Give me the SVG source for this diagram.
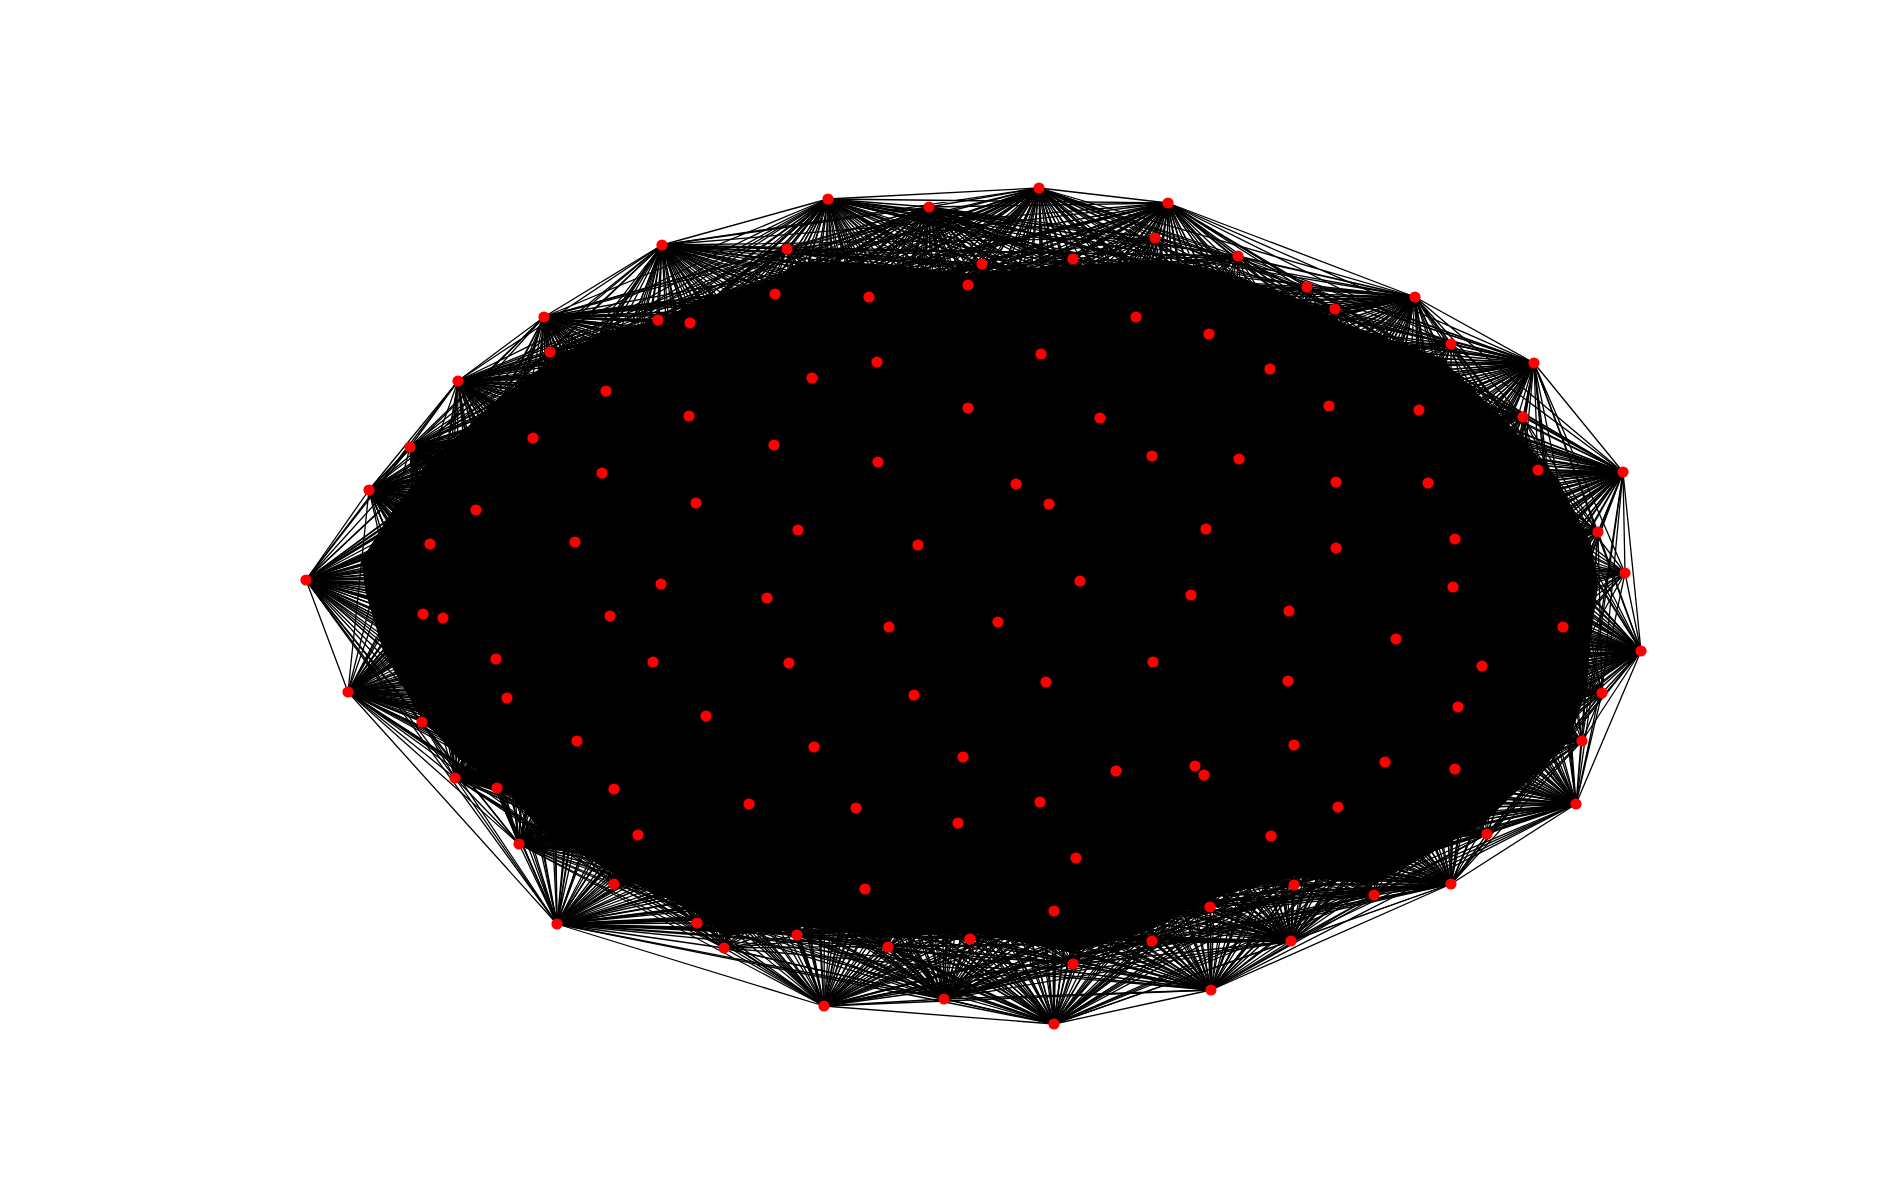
<svg xmlns="http://www.w3.org/2000/svg" width="1900" height="1200" viewBox="0 0 1900 1200">
<style>
#connectors path{fill:none;stroke:#000;stroke-width:1.3;stroke-linejoin:round;stroke-linecap:round}
#connectors path.core{fill:#000;stroke-width:1}
#nodes circle{fill:#ff0000;stroke:none}
</style>
<rect width="1900" height="1200" fill="#fff"/>
<g id="connectors">
<path class="core" d="M690 306L775 278 800 262 870 264 968 274 1073 266 1155 260 1230 274 1300 300 1340 322 1440 358 1512 428 1556 478 1590 542 1598 582 1590 640 1586 690 1568 742 1482 824 1374 884 1294 876 1210 898 1150 930 1073 952 1020 942 970 932 888 936 800 926 724 936 697 912 612 872 540 828 497 780 458 758 418 712 384 652 366 592 362 560 396 506 440 452 500 398 550 362 600 334 658 320Z"/>
<path d="M1039 188L1168 203 1415 297 1534 363 1623 472 1641 651 1576 804 1451 884 1291 941 1211 990 1054 1024 944 999 824 1006 557 924 519 844 455 778 348 692 306 580 369 490 410 447 458 381 544 317 662 245 828 199 929 207Z"/>
<path d="M1039 188L1415 297 1623 472 1576 804 1291 941 1054 1024 824 1006 519 844 348 692 369 490 458 381 662 245 929 207 1168 203 1534 363 1641 651 1451 884 1211 990 944 999 557 924 455 778 306 580 410 447 544 317 828 199Z"/>
<path d="M1039 188L1534 363 1576 804 1211 990 824 1006 455 778 369 490 544 317 929 207 1415 297 1641 651 1291 941 944 999 519 844 306 580 458 381 828 199 1168 203 1623 472 1451 884 1054 1024 557 924 348 692 410 447 662 245Z"/>
<path d="M1039 188L1623 472 1291 941 824 1006 348 692 458 381 929 207 1534 363 1451 884 944 999 455 778 410 447 828 199 1415 297 1576 804 1054 1024 519 844 369 490 662 245 1168 203 1641 651 1211 990 557 924 306 580 544 317Z"/>
<path d="M1039 188L1641 651 1054 1024 455 778 458 381ZM1168 203L1576 804 944 999 348 692 544 317ZM1415 297L1451 884 824 1006 306 580 662 245ZM1534 363L1291 941 557 924 369 490 828 199ZM1623 472L1211 990 519 844 410 447 929 207Z"/>
<path d="M1039 188L1576 804 824 1006 369 490 929 207 1641 651 944 999 306 580 828 199 1623 472 1054 1024 348 692 662 245 1534 363 1211 990 455 778 544 317 1415 297 1291 941 519 844 458 381 1168 203 1451 884 557 924 410 447Z"/>
<path d="M1039 188L1451 884 519 844 544 317 1534 363 1054 1024 306 580 929 207 1576 804 557 924 458 381 1415 297 1211 990 348 692 828 199 1641 651 824 1006 410 447 1168 203 1291 941 455 778 662 245 1623 472 944 999 369 490Z"/>
<path d="M1039 188L1291 941 348 692 929 207 1451 884 455 778 828 199 1576 804 519 844 662 245 1641 651 557 924 544 317 1623 472 824 1006 458 381 1534 363 944 999 410 447 1415 297 1054 1024 369 490 1168 203 1211 990 306 580Z"/>
<path d="M1039 188L1211 990 369 490 1415 297 944 999 458 381 1623 472 557 924 662 245 1576 804 455 778 929 207 1291 941 306 580 1168 203 1054 1024 410 447 1534 363 824 1006 544 317 1641 651 519 844 828 199 1451 884 348 692Z"/>
<path d="M1039 188L1054 1024 458 381 1641 651 455 778ZM1168 203L944 999 544 317 1576 804 348 692ZM1415 297L824 1006 662 245 1451 884 306 580ZM1534 363L557 924 828 199 1291 941 369 490ZM1623 472L519 844 929 207 1211 990 410 447Z"/>
<path d="M1039 188L944 999 662 245 1291 941 410 447 1641 651 348 692 1415 297 557 924 929 207 1054 1024 544 317 1451 884 369 490 1623 472 455 778 1168 203 824 1006 828 199 1211 990 458 381 1576 804 306 580 1534 363 519 844Z"/>
<path d="M1039 188L824 1006 929 207 944 999 828 199 1054 1024 662 245 1211 990 544 317 1291 941 458 381 1451 884 410 447 1576 804 369 490 1641 651 306 580 1623 472 348 692 1534 363 455 778 1415 297 519 844 1168 203 557 924Z"/>
<path d="M787 249L982 264 1238 256 1335 309 1523 417 1598 532 1602 693 1582 741 1487 834 1374 895 1210 907 1073 964 970 939 797 935 697 923 638 835 422 722 443 618 476 510 550 352 690 323Z"/>
<path d="M787 249L1238 256 1523 417 1602 693 1487 834 1210 907 970 939 697 923 422 722 476 510 690 323 982 264 1335 309 1598 532 1582 741 1374 895 1073 964 797 935 638 835 443 618 550 352Z"/>
<path d="M787 249L1335 309 1602 693 1374 895 970 939 638 835 476 510ZM982 264L1523 417 1582 741 1210 907 797 935 422 722 550 352ZM1238 256L1598 532 1487 834 1073 964 697 923 443 618 690 323Z"/>
<path d="M1039 188L787 249 1039 188 982 264 1039 188 1155 238 1039 188 1238 256 1039 188 1335 309 1039 188 1451 344 1039 188 1523 417 1039 188 1598 532 1039 188 1625 573 1039 188 1602 693 1039 188 1582 741 1039 188 1487 834 1039 188 1374 895 1039 188 1210 907 1039 188 1152 941 1039 188 1073 964 1039 188 970 939 1039 188 888 947 1039 188 797 935 1039 188 697 923 1039 188 638 835 1039 188 497 788 1039 188 422 722 1039 188 443 618 1039 188 430 544 1039 188 476 510 1039 188 550 352 1039 188 658 320 1039 188 690 323"/>
<path d="M1168 203L787 249 1168 203 982 264 1168 203 1155 238 1168 203 1238 256 1168 203 1335 309 1168 203 1451 344 1168 203 1523 417 1168 203 1598 532 1168 203 1625 573 1168 203 1602 693 1168 203 1582 741 1168 203 1487 834 1168 203 1374 895 1168 203 1210 907 1168 203 1152 941 1168 203 1073 964 1168 203 970 939 1168 203 888 947 1168 203 797 935 1168 203 697 923 1168 203 638 835 1168 203 497 788 1168 203 422 722 1168 203 443 618 1168 203 430 544 1168 203 476 510 1168 203 550 352 1168 203 658 320 1168 203 690 323"/>
<path d="M1415 297L787 249 1415 297 982 264 1415 297 1155 238 1415 297 1238 256 1415 297 1335 309 1415 297 1451 344 1415 297 1523 417 1415 297 1598 532 1415 297 1625 573 1415 297 1602 693 1415 297 1582 741 1415 297 1487 834 1415 297 1374 895 1415 297 1210 907 1415 297 1152 941 1415 297 1073 964 1415 297 970 939 1415 297 888 947 1415 297 797 935 1415 297 697 923 1415 297 638 835 1415 297 497 788 1415 297 422 722 1415 297 443 618 1415 297 430 544 1415 297 476 510 1415 297 550 352 1415 297 658 320 1415 297 690 323"/>
<path d="M1534 363L787 249 1534 363 982 264 1534 363 1155 238 1534 363 1238 256 1534 363 1335 309 1534 363 1451 344 1534 363 1523 417 1534 363 1598 532 1534 363 1625 573 1534 363 1602 693 1534 363 1582 741 1534 363 1487 834 1534 363 1374 895 1534 363 1210 907 1534 363 1152 941 1534 363 1073 964 1534 363 970 939 1534 363 888 947 1534 363 797 935 1534 363 697 923 1534 363 638 835 1534 363 497 788 1534 363 422 722 1534 363 443 618 1534 363 430 544 1534 363 476 510 1534 363 550 352 1534 363 658 320 1534 363 690 323"/>
<path d="M1623 472L787 249 1623 472 982 264 1623 472 1155 238 1623 472 1238 256 1623 472 1335 309 1623 472 1451 344 1623 472 1523 417 1623 472 1598 532 1623 472 1625 573 1623 472 1602 693 1623 472 1582 741 1623 472 1487 834 1623 472 1374 895 1623 472 1210 907 1623 472 1152 941 1623 472 1073 964 1623 472 970 939 1623 472 888 947 1623 472 797 935 1623 472 697 923 1623 472 638 835 1623 472 497 788 1623 472 422 722 1623 472 443 618 1623 472 430 544 1623 472 476 510 1623 472 550 352 1623 472 658 320 1623 472 690 323"/>
<path d="M1641 651L787 249 1641 651 982 264 1641 651 1155 238 1641 651 1238 256 1641 651 1335 309 1641 651 1451 344 1641 651 1523 417 1641 651 1598 532 1641 651 1625 573 1641 651 1602 693 1641 651 1582 741 1641 651 1487 834 1641 651 1374 895 1641 651 1210 907 1641 651 1152 941 1641 651 1073 964 1641 651 970 939 1641 651 888 947 1641 651 797 935 1641 651 697 923 1641 651 638 835 1641 651 497 788 1641 651 422 722 1641 651 443 618 1641 651 430 544 1641 651 476 510 1641 651 550 352 1641 651 658 320 1641 651 690 323"/>
<path d="M1576 804L787 249 1576 804 982 264 1576 804 1155 238 1576 804 1238 256 1576 804 1335 309 1576 804 1451 344 1576 804 1523 417 1576 804 1598 532 1576 804 1625 573 1576 804 1602 693 1576 804 1582 741 1576 804 1487 834 1576 804 1374 895 1576 804 1210 907 1576 804 1152 941 1576 804 1073 964 1576 804 970 939 1576 804 888 947 1576 804 797 935 1576 804 697 923 1576 804 638 835 1576 804 497 788 1576 804 422 722 1576 804 443 618 1576 804 430 544 1576 804 476 510 1576 804 550 352 1576 804 658 320 1576 804 690 323"/>
<path d="M1451 884L787 249 1451 884 982 264 1451 884 1155 238 1451 884 1238 256 1451 884 1335 309 1451 884 1451 344 1451 884 1523 417 1451 884 1598 532 1451 884 1625 573 1451 884 1602 693 1451 884 1582 741 1451 884 1487 834 1451 884 1374 895 1451 884 1210 907 1451 884 1152 941 1451 884 1073 964 1451 884 970 939 1451 884 888 947 1451 884 797 935 1451 884 697 923 1451 884 638 835 1451 884 497 788 1451 884 422 722 1451 884 443 618 1451 884 430 544 1451 884 476 510 1451 884 550 352 1451 884 658 320 1451 884 690 323"/>
<path d="M1291 941L787 249 1291 941 982 264 1291 941 1155 238 1291 941 1238 256 1291 941 1335 309 1291 941 1451 344 1291 941 1523 417 1291 941 1598 532 1291 941 1625 573 1291 941 1602 693 1291 941 1582 741 1291 941 1487 834 1291 941 1374 895 1291 941 1210 907 1291 941 1152 941 1291 941 1073 964 1291 941 970 939 1291 941 888 947 1291 941 797 935 1291 941 697 923 1291 941 638 835 1291 941 497 788 1291 941 422 722 1291 941 443 618 1291 941 430 544 1291 941 476 510 1291 941 550 352 1291 941 658 320 1291 941 690 323"/>
<path d="M1211 990L787 249 1211 990 982 264 1211 990 1155 238 1211 990 1238 256 1211 990 1335 309 1211 990 1451 344 1211 990 1523 417 1211 990 1598 532 1211 990 1625 573 1211 990 1602 693 1211 990 1582 741 1211 990 1487 834 1211 990 1374 895 1211 990 1210 907 1211 990 1152 941 1211 990 1073 964 1211 990 970 939 1211 990 888 947 1211 990 797 935 1211 990 697 923 1211 990 638 835 1211 990 497 788 1211 990 422 722 1211 990 443 618 1211 990 430 544 1211 990 476 510 1211 990 550 352 1211 990 658 320 1211 990 690 323"/>
<path d="M1054 1024L787 249 1054 1024 982 264 1054 1024 1155 238 1054 1024 1238 256 1054 1024 1335 309 1054 1024 1451 344 1054 1024 1523 417 1054 1024 1598 532 1054 1024 1625 573 1054 1024 1602 693 1054 1024 1582 741 1054 1024 1487 834 1054 1024 1374 895 1054 1024 1210 907 1054 1024 1152 941 1054 1024 1073 964 1054 1024 970 939 1054 1024 888 947 1054 1024 797 935 1054 1024 697 923 1054 1024 638 835 1054 1024 497 788 1054 1024 422 722 1054 1024 443 618 1054 1024 430 544 1054 1024 476 510 1054 1024 550 352 1054 1024 658 320 1054 1024 690 323"/>
<path d="M944 999L787 249 944 999 982 264 944 999 1155 238 944 999 1238 256 944 999 1335 309 944 999 1451 344 944 999 1523 417 944 999 1598 532 944 999 1625 573 944 999 1602 693 944 999 1582 741 944 999 1487 834 944 999 1374 895 944 999 1210 907 944 999 1152 941 944 999 1073 964 944 999 970 939 944 999 888 947 944 999 797 935 944 999 697 923 944 999 638 835 944 999 497 788 944 999 422 722 944 999 443 618 944 999 430 544 944 999 476 510 944 999 550 352 944 999 658 320 944 999 690 323"/>
<path d="M824 1006L787 249 824 1006 982 264 824 1006 1155 238 824 1006 1238 256 824 1006 1335 309 824 1006 1451 344 824 1006 1523 417 824 1006 1598 532 824 1006 1625 573 824 1006 1602 693 824 1006 1582 741 824 1006 1487 834 824 1006 1374 895 824 1006 1210 907 824 1006 1152 941 824 1006 1073 964 824 1006 970 939 824 1006 888 947 824 1006 797 935 824 1006 697 923 824 1006 638 835 824 1006 497 788 824 1006 422 722 824 1006 443 618 824 1006 430 544 824 1006 476 510 824 1006 550 352 824 1006 658 320 824 1006 690 323"/>
<path d="M557 924L787 249 557 924 982 264 557 924 1155 238 557 924 1238 256 557 924 1335 309 557 924 1451 344 557 924 1523 417 557 924 1598 532 557 924 1625 573 557 924 1602 693 557 924 1582 741 557 924 1487 834 557 924 1374 895 557 924 1210 907 557 924 1152 941 557 924 1073 964 557 924 970 939 557 924 888 947 557 924 797 935 557 924 697 923 557 924 638 835 557 924 497 788 557 924 422 722 557 924 443 618 557 924 430 544 557 924 476 510 557 924 550 352 557 924 658 320 557 924 690 323"/>
<path d="M519 844L787 249 519 844 982 264 519 844 1155 238 519 844 1238 256 519 844 1335 309 519 844 1451 344 519 844 1523 417 519 844 1598 532 519 844 1625 573 519 844 1602 693 519 844 1582 741 519 844 1487 834 519 844 1374 895 519 844 1210 907 519 844 1152 941 519 844 1073 964 519 844 970 939 519 844 888 947 519 844 797 935 519 844 697 923 519 844 638 835 519 844 497 788 519 844 422 722 519 844 443 618 519 844 430 544 519 844 476 510 519 844 550 352 519 844 658 320 519 844 690 323"/>
<path d="M455 778L787 249 455 778 982 264 455 778 1155 238 455 778 1238 256 455 778 1335 309 455 778 1451 344 455 778 1523 417 455 778 1598 532 455 778 1625 573 455 778 1602 693 455 778 1582 741 455 778 1487 834 455 778 1374 895 455 778 1210 907 455 778 1152 941 455 778 1073 964 455 778 970 939 455 778 888 947 455 778 797 935 455 778 697 923 455 778 638 835 455 778 497 788 455 778 422 722 455 778 443 618 455 778 430 544 455 778 476 510 455 778 550 352 455 778 658 320 455 778 690 323"/>
<path d="M348 692L787 249 348 692 982 264 348 692 1155 238 348 692 1238 256 348 692 1335 309 348 692 1451 344 348 692 1523 417 348 692 1598 532 348 692 1625 573 348 692 1602 693 348 692 1582 741 348 692 1487 834 348 692 1374 895 348 692 1210 907 348 692 1152 941 348 692 1073 964 348 692 970 939 348 692 888 947 348 692 797 935 348 692 697 923 348 692 638 835 348 692 497 788 348 692 422 722 348 692 443 618 348 692 430 544 348 692 476 510 348 692 550 352 348 692 658 320 348 692 690 323"/>
<path d="M306 580L787 249 306 580 982 264 306 580 1155 238 306 580 1238 256 306 580 1335 309 306 580 1451 344 306 580 1523 417 306 580 1598 532 306 580 1625 573 306 580 1602 693 306 580 1582 741 306 580 1487 834 306 580 1374 895 306 580 1210 907 306 580 1152 941 306 580 1073 964 306 580 970 939 306 580 888 947 306 580 797 935 306 580 697 923 306 580 638 835 306 580 497 788 306 580 422 722 306 580 443 618 306 580 430 544 306 580 476 510 306 580 550 352 306 580 658 320 306 580 690 323"/>
<path d="M369 490L787 249 369 490 982 264 369 490 1155 238 369 490 1238 256 369 490 1335 309 369 490 1451 344 369 490 1523 417 369 490 1598 532 369 490 1625 573 369 490 1602 693 369 490 1582 741 369 490 1487 834 369 490 1374 895 369 490 1210 907 369 490 1152 941 369 490 1073 964 369 490 970 939 369 490 888 947 369 490 797 935 369 490 697 923 369 490 638 835 369 490 497 788 369 490 422 722 369 490 443 618 369 490 430 544 369 490 476 510 369 490 550 352 369 490 658 320 369 490 690 323"/>
<path d="M410 447L787 249 410 447 982 264 410 447 1155 238 410 447 1238 256 410 447 1335 309 410 447 1451 344 410 447 1523 417 410 447 1598 532 410 447 1625 573 410 447 1602 693 410 447 1582 741 410 447 1487 834 410 447 1374 895 410 447 1210 907 410 447 1152 941 410 447 1073 964 410 447 970 939 410 447 888 947 410 447 797 935 410 447 697 923 410 447 638 835 410 447 497 788 410 447 422 722 410 447 443 618 410 447 430 544 410 447 476 510 410 447 550 352 410 447 658 320 410 447 690 323"/>
<path d="M458 381L787 249 458 381 982 264 458 381 1155 238 458 381 1238 256 458 381 1335 309 458 381 1451 344 458 381 1523 417 458 381 1598 532 458 381 1625 573 458 381 1602 693 458 381 1582 741 458 381 1487 834 458 381 1374 895 458 381 1210 907 458 381 1152 941 458 381 1073 964 458 381 970 939 458 381 888 947 458 381 797 935 458 381 697 923 458 381 638 835 458 381 497 788 458 381 422 722 458 381 443 618 458 381 430 544 458 381 476 510 458 381 550 352 458 381 658 320 458 381 690 323"/>
<path d="M544 317L787 249 544 317 982 264 544 317 1155 238 544 317 1238 256 544 317 1335 309 544 317 1451 344 544 317 1523 417 544 317 1598 532 544 317 1625 573 544 317 1602 693 544 317 1582 741 544 317 1487 834 544 317 1374 895 544 317 1210 907 544 317 1152 941 544 317 1073 964 544 317 970 939 544 317 888 947 544 317 797 935 544 317 697 923 544 317 638 835 544 317 497 788 544 317 422 722 544 317 443 618 544 317 430 544 544 317 476 510 544 317 550 352 544 317 658 320 544 317 690 323"/>
<path d="M662 245L787 249 662 245 982 264 662 245 1155 238 662 245 1238 256 662 245 1335 309 662 245 1451 344 662 245 1523 417 662 245 1598 532 662 245 1625 573 662 245 1602 693 662 245 1582 741 662 245 1487 834 662 245 1374 895 662 245 1210 907 662 245 1152 941 662 245 1073 964 662 245 970 939 662 245 888 947 662 245 797 935 662 245 697 923 662 245 638 835 662 245 497 788 662 245 422 722 662 245 443 618 662 245 430 544 662 245 476 510 662 245 550 352 662 245 658 320 662 245 690 323"/>
<path d="M828 199L787 249 828 199 982 264 828 199 1155 238 828 199 1238 256 828 199 1335 309 828 199 1451 344 828 199 1523 417 828 199 1598 532 828 199 1625 573 828 199 1602 693 828 199 1582 741 828 199 1487 834 828 199 1374 895 828 199 1210 907 828 199 1152 941 828 199 1073 964 828 199 970 939 828 199 888 947 828 199 797 935 828 199 697 923 828 199 638 835 828 199 497 788 828 199 422 722 828 199 443 618 828 199 430 544 828 199 476 510 828 199 550 352 828 199 658 320 828 199 690 323"/>
<path d="M929 207L787 249 929 207 982 264 929 207 1155 238 929 207 1238 256 929 207 1335 309 929 207 1451 344 929 207 1523 417 929 207 1598 532 929 207 1625 573 929 207 1602 693 929 207 1582 741 929 207 1487 834 929 207 1374 895 929 207 1210 907 929 207 1152 941 929 207 1073 964 929 207 970 939 929 207 888 947 929 207 797 935 929 207 697 923 929 207 638 835 929 207 497 788 929 207 422 722 929 207 443 618 929 207 430 544 929 207 476 510 929 207 550 352 929 207 658 320 929 207 690 323"/>
<path d="M1039 188L1307 287 1039 188 1538 470 1039 188 1563 627 1039 188 1294 885 1039 188 1054 911 1039 188 724 948 1039 188 614 884 1039 188 423 614 1039 188 533 438 1039 188 1073 259 1039 188 577 741 1039 188 606 391 1039 188 775 294 1039 188 1209 334 1039 188 1419 410 1039 188 1455 539 1039 188 1482 666 1039 188 1455 769 1039 188 1271 836 1039 188 1076 858 1039 188 865 889 1039 188 749 804 1039 188 507 698 1039 188 602 473 1039 188 877 362 1039 188 968 285"/>
<path d="M1168 203L1307 287 1168 203 1538 470 1168 203 1563 627 1168 203 1294 885 1168 203 1054 911 1168 203 724 948 1168 203 614 884 1168 203 423 614 1168 203 533 438 1168 203 1073 259 1168 203 577 741 1168 203 606 391 1168 203 775 294 1168 203 1209 334 1168 203 1419 410 1168 203 1455 539 1168 203 1482 666 1168 203 1455 769 1168 203 1271 836 1168 203 1076 858 1168 203 865 889 1168 203 749 804 1168 203 507 698 1168 203 602 473 1168 203 877 362 1168 203 968 285"/>
<path d="M1415 297L1307 287 1415 297 1538 470 1415 297 1563 627 1415 297 1294 885 1415 297 1054 911 1415 297 724 948 1415 297 614 884 1415 297 423 614 1415 297 533 438 1415 297 1073 259 1415 297 577 741 1415 297 606 391 1415 297 775 294 1415 297 1209 334 1415 297 1419 410 1415 297 1455 539 1415 297 1482 666 1415 297 1455 769 1415 297 1271 836 1415 297 1076 858 1415 297 865 889 1415 297 749 804 1415 297 507 698 1415 297 602 473 1415 297 877 362 1415 297 968 285"/>
<path d="M1534 363L1307 287 1534 363 1538 470 1534 363 1563 627 1534 363 1294 885 1534 363 1054 911 1534 363 724 948 1534 363 614 884 1534 363 423 614 1534 363 533 438 1534 363 1073 259 1534 363 577 741 1534 363 606 391 1534 363 775 294 1534 363 1209 334 1534 363 1419 410 1534 363 1455 539 1534 363 1482 666 1534 363 1455 769 1534 363 1271 836 1534 363 1076 858 1534 363 865 889 1534 363 749 804 1534 363 507 698 1534 363 602 473 1534 363 877 362 1534 363 968 285"/>
<path d="M1623 472L1307 287 1623 472 1538 470 1623 472 1563 627 1623 472 1294 885 1623 472 1054 911 1623 472 724 948 1623 472 614 884 1623 472 423 614 1623 472 533 438 1623 472 1073 259 1623 472 577 741 1623 472 606 391 1623 472 775 294 1623 472 1209 334 1623 472 1419 410 1623 472 1455 539 1623 472 1482 666 1623 472 1455 769 1623 472 1271 836 1623 472 1076 858 1623 472 865 889 1623 472 749 804 1623 472 507 698 1623 472 602 473 1623 472 877 362 1623 472 968 285"/>
<path d="M1641 651L1307 287 1641 651 1538 470 1641 651 1563 627 1641 651 1294 885 1641 651 1054 911 1641 651 724 948 1641 651 614 884 1641 651 423 614 1641 651 533 438 1641 651 1073 259 1641 651 577 741 1641 651 606 391 1641 651 775 294 1641 651 1209 334 1641 651 1419 410 1641 651 1455 539 1641 651 1482 666 1641 651 1455 769 1641 651 1271 836 1641 651 1076 858 1641 651 865 889 1641 651 749 804 1641 651 507 698 1641 651 602 473 1641 651 877 362 1641 651 968 285"/>
<path d="M1576 804L1307 287 1576 804 1538 470 1576 804 1563 627 1576 804 1294 885 1576 804 1054 911 1576 804 724 948 1576 804 614 884 1576 804 423 614 1576 804 533 438 1576 804 1073 259 1576 804 577 741 1576 804 606 391 1576 804 775 294 1576 804 1209 334 1576 804 1419 410 1576 804 1455 539 1576 804 1482 666 1576 804 1455 769 1576 804 1271 836 1576 804 1076 858 1576 804 865 889 1576 804 749 804 1576 804 507 698 1576 804 602 473 1576 804 877 362 1576 804 968 285"/>
<path d="M1451 884L1307 287 1451 884 1538 470 1451 884 1563 627 1451 884 1294 885 1451 884 1054 911 1451 884 724 948 1451 884 614 884 1451 884 423 614 1451 884 533 438 1451 884 1073 259 1451 884 577 741 1451 884 606 391 1451 884 775 294 1451 884 1209 334 1451 884 1419 410 1451 884 1455 539 1451 884 1482 666 1451 884 1455 769 1451 884 1271 836 1451 884 1076 858 1451 884 865 889 1451 884 749 804 1451 884 507 698 1451 884 602 473 1451 884 877 362 1451 884 968 285"/>
<path d="M1291 941L1307 287 1291 941 1538 470 1291 941 1563 627 1291 941 1294 885 1291 941 1054 911 1291 941 724 948 1291 941 614 884 1291 941 423 614 1291 941 533 438 1291 941 1073 259 1291 941 577 741 1291 941 606 391 1291 941 775 294 1291 941 1209 334 1291 941 1419 410 1291 941 1455 539 1291 941 1482 666 1291 941 1455 769 1291 941 1271 836 1291 941 1076 858 1291 941 865 889 1291 941 749 804 1291 941 507 698 1291 941 602 473 1291 941 877 362 1291 941 968 285"/>
<path d="M1211 990L1307 287 1211 990 1538 470 1211 990 1563 627 1211 990 1294 885 1211 990 1054 911 1211 990 724 948 1211 990 614 884 1211 990 423 614 1211 990 533 438 1211 990 1073 259 1211 990 577 741 1211 990 606 391 1211 990 775 294 1211 990 1209 334 1211 990 1419 410 1211 990 1455 539 1211 990 1482 666 1211 990 1455 769 1211 990 1271 836 1211 990 1076 858 1211 990 865 889 1211 990 749 804 1211 990 507 698 1211 990 602 473 1211 990 877 362 1211 990 968 285"/>
<path d="M1054 1024L1307 287 1054 1024 1538 470 1054 1024 1563 627 1054 1024 1294 885 1054 1024 1054 911 1054 1024 724 948 1054 1024 614 884 1054 1024 423 614 1054 1024 533 438 1054 1024 1073 259 1054 1024 577 741 1054 1024 606 391 1054 1024 775 294 1054 1024 1209 334 1054 1024 1419 410 1054 1024 1455 539 1054 1024 1482 666 1054 1024 1455 769 1054 1024 1271 836 1054 1024 1076 858 1054 1024 865 889 1054 1024 749 804 1054 1024 507 698 1054 1024 602 473 1054 1024 877 362 1054 1024 968 285"/>
<path d="M944 999L1307 287 944 999 1538 470 944 999 1563 627 944 999 1294 885 944 999 1054 911 944 999 724 948 944 999 614 884 944 999 423 614 944 999 533 438 944 999 1073 259 944 999 577 741 944 999 606 391 944 999 775 294 944 999 1209 334 944 999 1419 410 944 999 1455 539 944 999 1482 666 944 999 1455 769 944 999 1271 836 944 999 1076 858 944 999 865 889 944 999 749 804 944 999 507 698 944 999 602 473 944 999 877 362 944 999 968 285"/>
<path d="M824 1006L1307 287 824 1006 1538 470 824 1006 1563 627 824 1006 1294 885 824 1006 1054 911 824 1006 724 948 824 1006 614 884 824 1006 423 614 824 1006 533 438 824 1006 1073 259 824 1006 577 741 824 1006 606 391 824 1006 775 294 824 1006 1209 334 824 1006 1419 410 824 1006 1455 539 824 1006 1482 666 824 1006 1455 769 824 1006 1271 836 824 1006 1076 858 824 1006 865 889 824 1006 749 804 824 1006 507 698 824 1006 602 473 824 1006 877 362 824 1006 968 285"/>
<path d="M557 924L1307 287 557 924 1538 470 557 924 1563 627 557 924 1294 885 557 924 1054 911 557 924 724 948 557 924 614 884 557 924 423 614 557 924 533 438 557 924 1073 259 557 924 577 741 557 924 606 391 557 924 775 294 557 924 1209 334 557 924 1419 410 557 924 1455 539 557 924 1482 666 557 924 1455 769 557 924 1271 836 557 924 1076 858 557 924 865 889 557 924 749 804 557 924 507 698 557 924 602 473 557 924 877 362 557 924 968 285"/>
<path d="M519 844L1307 287 519 844 1538 470 519 844 1563 627 519 844 1294 885 519 844 1054 911 519 844 724 948 519 844 614 884 519 844 423 614 519 844 533 438 519 844 1073 259 519 844 577 741 519 844 606 391 519 844 775 294 519 844 1209 334 519 844 1419 410 519 844 1455 539 519 844 1482 666 519 844 1455 769 519 844 1271 836 519 844 1076 858 519 844 865 889 519 844 749 804 519 844 507 698 519 844 602 473 519 844 877 362 519 844 968 285"/>
<path d="M455 778L1307 287 455 778 1538 470 455 778 1563 627 455 778 1294 885 455 778 1054 911 455 778 724 948 455 778 614 884 455 778 423 614 455 778 533 438 455 778 1073 259 455 778 577 741 455 778 606 391 455 778 775 294 455 778 1209 334 455 778 1419 410 455 778 1455 539 455 778 1482 666 455 778 1455 769 455 778 1271 836 455 778 1076 858 455 778 865 889 455 778 749 804 455 778 507 698 455 778 602 473 455 778 877 362 455 778 968 285"/>
<path d="M348 692L1307 287 348 692 1538 470 348 692 1563 627 348 692 1294 885 348 692 1054 911 348 692 724 948 348 692 614 884 348 692 423 614 348 692 533 438 348 692 1073 259 348 692 577 741 348 692 606 391 348 692 775 294 348 692 1209 334 348 692 1419 410 348 692 1455 539 348 692 1482 666 348 692 1455 769 348 692 1271 836 348 692 1076 858 348 692 865 889 348 692 749 804 348 692 507 698 348 692 602 473 348 692 877 362 348 692 968 285"/>
<path d="M306 580L1307 287 306 580 1538 470 306 580 1563 627 306 580 1294 885 306 580 1054 911 306 580 724 948 306 580 614 884 306 580 423 614 306 580 533 438 306 580 1073 259 306 580 577 741 306 580 606 391 306 580 775 294 306 580 1209 334 306 580 1419 410 306 580 1455 539 306 580 1482 666 306 580 1455 769 306 580 1271 836 306 580 1076 858 306 580 865 889 306 580 749 804 306 580 507 698 306 580 602 473 306 580 877 362 306 580 968 285"/>
<path d="M369 490L1307 287 369 490 1538 470 369 490 1563 627 369 490 1294 885 369 490 1054 911 369 490 724 948 369 490 614 884 369 490 423 614 369 490 533 438 369 490 1073 259 369 490 577 741 369 490 606 391 369 490 775 294 369 490 1209 334 369 490 1419 410 369 490 1455 539 369 490 1482 666 369 490 1455 769 369 490 1271 836 369 490 1076 858 369 490 865 889 369 490 749 804 369 490 507 698 369 490 602 473 369 490 877 362 369 490 968 285"/>
<path d="M410 447L1307 287 410 447 1538 470 410 447 1563 627 410 447 1294 885 410 447 1054 911 410 447 724 948 410 447 614 884 410 447 423 614 410 447 533 438 410 447 1073 259 410 447 577 741 410 447 606 391 410 447 775 294 410 447 1209 334 410 447 1419 410 410 447 1455 539 410 447 1482 666 410 447 1455 769 410 447 1271 836 410 447 1076 858 410 447 865 889 410 447 749 804 410 447 507 698 410 447 602 473 410 447 877 362 410 447 968 285"/>
<path d="M458 381L1307 287 458 381 1538 470 458 381 1563 627 458 381 1294 885 458 381 1054 911 458 381 724 948 458 381 614 884 458 381 423 614 458 381 533 438 458 381 1073 259 458 381 577 741 458 381 606 391 458 381 775 294 458 381 1209 334 458 381 1419 410 458 381 1455 539 458 381 1482 666 458 381 1455 769 458 381 1271 836 458 381 1076 858 458 381 865 889 458 381 749 804 458 381 507 698 458 381 602 473 458 381 877 362 458 381 968 285"/>
<path d="M544 317L1307 287 544 317 1538 470 544 317 1563 627 544 317 1294 885 544 317 1054 911 544 317 724 948 544 317 614 884 544 317 423 614 544 317 533 438 544 317 1073 259 544 317 577 741 544 317 606 391 544 317 775 294 544 317 1209 334 544 317 1419 410 544 317 1455 539 544 317 1482 666 544 317 1455 769 544 317 1271 836 544 317 1076 858 544 317 865 889 544 317 749 804 544 317 507 698 544 317 602 473 544 317 877 362 544 317 968 285"/>
<path d="M662 245L1307 287 662 245 1538 470 662 245 1563 627 662 245 1294 885 662 245 1054 911 662 245 724 948 662 245 614 884 662 245 423 614 662 245 533 438 662 245 1073 259 662 245 577 741 662 245 606 391 662 245 775 294 662 245 1209 334 662 245 1419 410 662 245 1455 539 662 245 1482 666 662 245 1455 769 662 245 1271 836 662 245 1076 858 662 245 865 889 662 245 749 804 662 245 507 698 662 245 602 473 662 245 877 362 662 245 968 285"/>
<path d="M828 199L1307 287 828 199 1538 470 828 199 1563 627 828 199 1294 885 828 199 1054 911 828 199 724 948 828 199 614 884 828 199 423 614 828 199 533 438 828 199 1073 259 828 199 577 741 828 199 606 391 828 199 775 294 828 199 1209 334 828 199 1419 410 828 199 1455 539 828 199 1482 666 828 199 1455 769 828 199 1271 836 828 199 1076 858 828 199 865 889 828 199 749 804 828 199 507 698 828 199 602 473 828 199 877 362 828 199 968 285"/>
<path d="M929 207L1307 287 929 207 1538 470 929 207 1563 627 929 207 1294 885 929 207 1054 911 929 207 724 948 929 207 614 884 929 207 423 614 929 207 533 438 929 207 1073 259 929 207 577 741 929 207 606 391 929 207 775 294 929 207 1209 334 929 207 1419 410 929 207 1455 539 929 207 1482 666 929 207 1455 769 929 207 1271 836 929 207 1076 858 929 207 865 889 929 207 749 804 929 207 507 698 929 207 602 473 929 207 877 362 929 207 968 285"/>
</g>
<g id="nodes">
<g id="n1"><circle cx="1039" cy="188" r="5.6"/></g>
<g id="n2"><circle cx="1168" cy="203" r="5.6"/></g>
<g id="n3"><circle cx="1415" cy="297" r="5.6"/></g>
<g id="n4"><circle cx="1534" cy="363" r="5.6"/></g>
<g id="n5"><circle cx="1623" cy="472" r="5.6"/></g>
<g id="n6"><circle cx="1641" cy="651" r="5.6"/></g>
<g id="n7"><circle cx="1576" cy="804" r="5.6"/></g>
<g id="n8"><circle cx="1451" cy="884" r="5.6"/></g>
<g id="n9"><circle cx="1291" cy="941" r="5.6"/></g>
<g id="n10"><circle cx="1211" cy="990" r="5.6"/></g>
<g id="n11"><circle cx="1054" cy="1024" r="5.6"/></g>
<g id="n12"><circle cx="944" cy="999" r="5.6"/></g>
<g id="n13"><circle cx="824" cy="1006" r="5.6"/></g>
<g id="n14"><circle cx="557" cy="924" r="5.6"/></g>
<g id="n15"><circle cx="519" cy="844" r="5.6"/></g>
<g id="n16"><circle cx="455" cy="778" r="5.6"/></g>
<g id="n17"><circle cx="348" cy="692" r="5.6"/></g>
<g id="n18"><circle cx="306" cy="580" r="5.6"/></g>
<g id="n19"><circle cx="369" cy="490" r="5.6"/></g>
<g id="n20"><circle cx="410" cy="447" r="5.6"/></g>
<g id="n21"><circle cx="458" cy="381" r="5.6"/></g>
<g id="n22"><circle cx="544" cy="317" r="5.6"/></g>
<g id="n23"><circle cx="662" cy="245" r="5.6"/></g>
<g id="n24"><circle cx="828" cy="199" r="5.6"/></g>
<g id="n25"><circle cx="929" cy="207" r="5.6"/></g>
<g id="n26"><circle cx="787" cy="249" r="5.6"/></g>
<g id="n27"><circle cx="1155" cy="238" r="5.6"/></g>
<g id="n28"><circle cx="1238" cy="256" r="5.6"/></g>
<g id="n29"><circle cx="1307" cy="287" r="5.6"/></g>
<g id="n30"><circle cx="1335" cy="309" r="5.6"/></g>
<g id="n31"><circle cx="1451" cy="344" r="5.6"/></g>
<g id="n32"><circle cx="1523" cy="417" r="5.6"/></g>
<g id="n33"><circle cx="1538" cy="470" r="5.6"/></g>
<g id="n34"><circle cx="1598" cy="532" r="5.6"/></g>
<g id="n35"><circle cx="1625" cy="573" r="5.6"/></g>
<g id="n36"><circle cx="1602" cy="693" r="5.6"/></g>
<g id="n37"><circle cx="1582" cy="741" r="5.6"/></g>
<g id="n38"><circle cx="1563" cy="627" r="5.6"/></g>
<g id="n39"><circle cx="1487" cy="834" r="5.6"/></g>
<g id="n40"><circle cx="1374" cy="895" r="5.6"/></g>
<g id="n41"><circle cx="1294" cy="885" r="5.6"/></g>
<g id="n42"><circle cx="1210" cy="907" r="5.6"/></g>
<g id="n43"><circle cx="1152" cy="941" r="5.6"/></g>
<g id="n44"><circle cx="1073" cy="964" r="5.6"/></g>
<g id="n45"><circle cx="1054" cy="911" r="5.6"/></g>
<g id="n46"><circle cx="970" cy="939" r="5.6"/></g>
<g id="n47"><circle cx="888" cy="947" r="5.6"/></g>
<g id="n48"><circle cx="797" cy="935" r="5.6"/></g>
<g id="n49"><circle cx="724" cy="948" r="5.6"/></g>
<g id="n50"><circle cx="697" cy="923" r="5.6"/></g>
<g id="n51"><circle cx="614" cy="884" r="5.6"/></g>
<g id="n52"><circle cx="638" cy="835" r="5.6"/></g>
<g id="n53"><circle cx="577" cy="741" r="5.6"/></g>
<g id="n54"><circle cx="497" cy="788" r="5.6"/></g>
<g id="n55"><circle cx="422" cy="722" r="5.6"/></g>
<g id="n56"><circle cx="423" cy="614" r="5.6"/></g>
<g id="n57"><circle cx="443" cy="618" r="5.6"/></g>
<g id="n58"><circle cx="430" cy="544" r="5.6"/></g>
<g id="n59"><circle cx="476" cy="510" r="5.6"/></g>
<g id="n60"><circle cx="533" cy="438" r="5.6"/></g>
<g id="n61"><circle cx="550" cy="352" r="5.6"/></g>
<g id="n62"><circle cx="658" cy="320" r="5.6"/></g>
<g id="n63"><circle cx="690" cy="323" r="5.6"/></g>
<g id="n64"><circle cx="606" cy="391" r="5.6"/></g>
<g id="n65"><circle cx="982" cy="264" r="5.6"/></g>
<g id="n66"><circle cx="1073" cy="259" r="5.6"/></g>
<g id="n67"><circle cx="968" cy="285" r="5.6"/></g>
<g id="n68"><circle cx="775" cy="294" r="5.6"/></g>
<g id="n69"><circle cx="869" cy="297" r="5.6"/></g>
<g id="n70"><circle cx="1209" cy="334" r="5.6"/></g>
<g id="n71"><circle cx="1270" cy="369" r="5.6"/></g>
<g id="n72"><circle cx="1329" cy="406" r="5.6"/></g>
<g id="n73"><circle cx="1419" cy="410" r="5.6"/></g>
<g id="n74"><circle cx="1336" cy="482" r="5.6"/></g>
<g id="n75"><circle cx="1428" cy="483" r="5.6"/></g>
<g id="n76"><circle cx="1239" cy="459" r="5.6"/></g>
<g id="n77"><circle cx="1152" cy="456" r="5.6"/></g>
<g id="n78"><circle cx="1206" cy="529" r="5.6"/></g>
<g id="n79"><circle cx="1455" cy="539" r="5.6"/></g>
<g id="n80"><circle cx="1336" cy="548" r="5.6"/></g>
<g id="n81"><circle cx="1453" cy="587" r="5.6"/></g>
<g id="n82"><circle cx="1191" cy="595" r="5.6"/></g>
<g id="n83"><circle cx="1289" cy="611" r="5.6"/></g>
<g id="n84"><circle cx="1396" cy="639" r="5.6"/></g>
<g id="n85"><circle cx="1482" cy="666" r="5.6"/></g>
<g id="n86"><circle cx="1288" cy="681" r="5.6"/></g>
<g id="n87"><circle cx="1458" cy="707" r="5.6"/></g>
<g id="n88"><circle cx="1294" cy="745" r="5.6"/></g>
<g id="n89"><circle cx="1385" cy="762" r="5.6"/></g>
<g id="n90"><circle cx="1455" cy="769" r="5.6"/></g>
<g id="n91"><circle cx="1338" cy="807" r="5.6"/></g>
<g id="n92"><circle cx="1271" cy="836" r="5.6"/></g>
<g id="n93"><circle cx="1195" cy="766" r="5.6"/></g>
<g id="n94"><circle cx="1204" cy="775" r="5.6"/></g>
<g id="n95"><circle cx="1153" cy="662" r="5.6"/></g>
<g id="n96"><circle cx="1046" cy="682" r="5.6"/></g>
<g id="n97"><circle cx="1116" cy="771" r="5.6"/></g>
<g id="n98"><circle cx="1040" cy="802" r="5.6"/></g>
<g id="n99"><circle cx="1076" cy="858" r="5.6"/></g>
<g id="n100"><circle cx="958" cy="823" r="5.6"/></g>
<g id="n101"><circle cx="963" cy="757" r="5.6"/></g>
<g id="n102"><circle cx="914" cy="695" r="5.6"/></g>
<g id="n103"><circle cx="889" cy="627" r="5.6"/></g>
<g id="n104"><circle cx="998" cy="622" r="5.6"/></g>
<g id="n105"><circle cx="789" cy="663" r="5.6"/></g>
<g id="n106"><circle cx="814" cy="747" r="5.6"/></g>
<g id="n107"><circle cx="749" cy="804" r="5.6"/></g>
<g id="n108"><circle cx="856" cy="808" r="5.6"/></g>
<g id="n109"><circle cx="865" cy="889" r="5.6"/></g>
<g id="n110"><circle cx="706" cy="716" r="5.6"/></g>
<g id="n111"><circle cx="653" cy="662" r="5.6"/></g>
<g id="n112"><circle cx="610" cy="616" r="5.6"/></g>
<g id="n113"><circle cx="507" cy="698" r="5.6"/></g>
<g id="n114"><circle cx="496" cy="659" r="5.6"/></g>
<g id="n115"><circle cx="614" cy="789" r="5.6"/></g>
<g id="n116"><circle cx="767" cy="598" r="5.6"/></g>
<g id="n117"><circle cx="798" cy="530" r="5.6"/></g>
<g id="n118"><circle cx="918" cy="545" r="5.6"/></g>
<g id="n119"><circle cx="1080" cy="581" r="5.6"/></g>
<g id="n120"><circle cx="1049" cy="504" r="5.6"/></g>
<g id="n121"><circle cx="1016" cy="484" r="5.6"/></g>
<g id="n122"><circle cx="878" cy="462" r="5.6"/></g>
<g id="n123"><circle cx="774" cy="445" r="5.6"/></g>
<g id="n124"><circle cx="812" cy="378" r="5.6"/></g>
<g id="n125"><circle cx="877" cy="362" r="5.6"/></g>
<g id="n126"><circle cx="968" cy="408" r="5.6"/></g>
<g id="n127"><circle cx="1100" cy="418" r="5.6"/></g>
<g id="n128"><circle cx="1041" cy="354" r="5.6"/></g>
<g id="n129"><circle cx="1136" cy="317" r="5.6"/></g>
<g id="n130"><circle cx="689" cy="416" r="5.6"/></g>
<g id="n131"><circle cx="602" cy="473" r="5.6"/></g>
<g id="n132"><circle cx="696" cy="503" r="5.6"/></g>
<g id="n133"><circle cx="575" cy="542" r="5.6"/></g>
<g id="n134"><circle cx="661" cy="584" r="5.6"/></g>
</g>
</svg>
